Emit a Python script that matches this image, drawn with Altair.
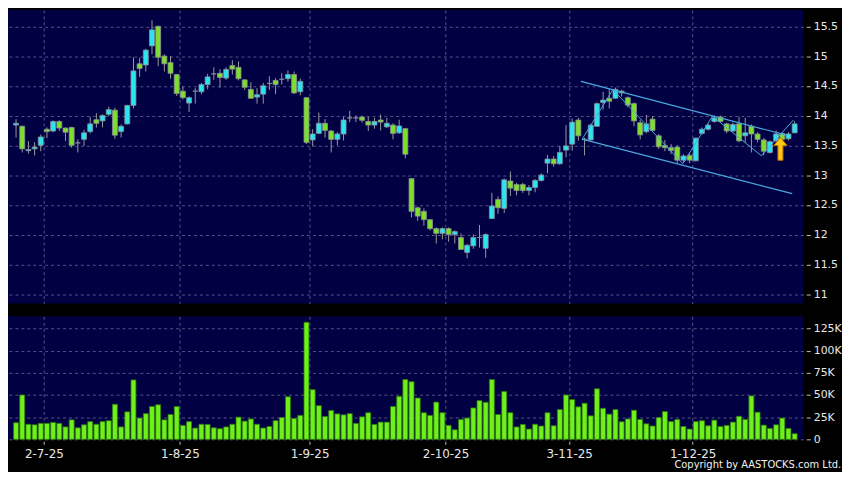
import altair as alt
import pandas as pd

# ---------------- data ----------------
opens = [13.84, 13.82, 13.41, 13.44, 13.50, 13.77, 13.74, 13.90, 13.79, 13.80,
         13.54, 13.60, 13.73, 13.93, 13.91, 14.02, 14.09, 13.73, 13.86, 14.17,
         14.87, 14.85, 15.17, 15.50, 15.00, 14.89, 14.69, 14.41, 14.21, 14.41,
         14.40, 14.52, 14.70, 14.71, 14.63, 14.84, 14.81, 14.60, 14.44, 14.31,
         14.36, 14.54, 14.59, 14.61, 14.62, 14.69, 14.40, 14.30, 13.59, 13.70,
         13.87, 13.74, 13.60, 13.69, 13.96, 13.96, 13.975, 13.90, 13.84, 13.925,
         13.81, 13.84, 13.71, 13.78, 12.94, 12.45, 12.39, 12.25, 12.10, 12.02,
         12.10, 12.00, 11.95, 11.70, 11.81, 11.95, 11.77, 12.27, 12.59, 12.44,
         12.90, 12.84, 12.84, 12.74, 12.79, 12.91, 13.20, 13.27, 13.19, 13.42,
         13.52, 13.925, 13.60, 13.59, 13.82, 14.22, 14.29, 14.29, 14.41, 14.30,
         14.20, 13.88, 13.73, 13.94, 13.66, 13.50, 13.46, 13.47, 13.25, 13.33,
         13.24, 13.70, 13.77, 13.90, 13.975, 13.86, 13.74, 13.86, 13.66, 13.82,
         13.69, 13.59, 13.38, 13.575, 13.70, 13.61, 13.71]
highs = [13.94, 13.83, 13.57, 13.55, 13.68, 13.80, 13.92, 13.92, 13.80, 13.81,
         13.60, 13.76, 13.98, 14.04, 14.02, 14.15, 14.13, 13.85, 14.18, 14.98,
         14.97, 15.12, 15.60, 15.51, 15.03, 15.00, 14.70, 14.49, 14.32, 14.46,
         14.55, 14.70, 14.81, 14.78, 14.81, 14.93, 14.91, 14.61, 14.56, 14.46,
         14.55, 14.66, 14.63, 14.71, 14.76, 14.74, 14.62, 14.31, 13.77, 14.05,
         13.94, 13.76, 13.72, 13.98, 14.08, 14.00, 14.00, 13.98, 13.96, 14.02,
         13.96, 13.87, 13.93, 13.79, 12.95, 12.47, 12.44, 12.26, 12.12, 12.12,
         12.12, 12.07, 12.02, 11.84, 12.00, 12.16, 12.02, 12.70, 12.64, 12.94,
         13.06, 12.87, 12.87, 12.83, 12.93, 13.03, 13.34, 13.32, 13.49, 13.84,
         13.95, 13.96, 13.63, 13.86, 14.22, 14.40, 14.45, 14.47, 14.43, 14.32,
         14.22, 13.93, 14.01, 13.99, 13.69, 13.59, 13.52, 13.50, 13.35, 13.37,
         13.63, 13.80, 13.86, 14.00, 14.00, 13.88, 13.88, 13.98, 13.96, 13.85,
         13.72, 13.62, 13.58, 13.75, 13.72, 13.72, 13.91]
lows = [13.63, 13.38, 13.36, 13.33, 13.40, 13.62, 13.72, 13.74, 13.57, 13.46,
        13.38, 13.49, 13.70, 13.80, 13.80, 13.99, 13.61, 13.63, 13.85, 14.12,
        14.65, 14.74, 15.03, 14.83, 14.74, 14.62, 14.33, 14.27, 14.06, 14.20,
        14.36, 14.44, 14.60, 14.47, 14.60, 14.69, 14.59, 14.43, 14.28, 14.20,
        14.20, 14.43, 14.36, 14.52, 14.57, 14.36, 14.34, 13.52, 13.48, 13.69,
        13.63, 13.38, 13.50, 13.58, 13.89, 13.89, 13.88, 13.74, 13.78, 13.75,
        13.79, 13.60, 13.69, 13.28, 12.29, 12.23, 12.15, 12.07, 11.85, 11.92,
        11.88, 11.85, 11.74, 11.60, 11.76, 11.78, 11.61, 12.26, 12.35, 12.36,
        12.65, 12.66, 12.70, 12.66, 12.71, 12.89, 13.03, 13.14, 13.17, 13.30,
        13.41, 13.58, 13.33, 13.58, 13.81, 14.10, 14.12, 14.28, 14.32, 14.14,
        13.82, 13.60, 13.70, 13.74, 13.44, 13.40, 13.35, 13.20, 13.21, 13.20,
        13.23, 13.68, 13.75, 13.88, 13.88, 13.70, 13.72, 13.55, 13.55, 13.38,
        13.55, 13.33, 13.36, 13.55, 13.55, 13.58, 13.70]
closes = [13.87, 13.44, 13.43, 13.47, 13.64, 13.73, 13.90, 13.79, 13.72, 13.50,
          13.54, 13.71, 13.86, 13.87, 14.00, 14.10, 13.67, 13.82, 14.17, 14.75,
          14.79, 15.10, 15.44, 14.98, 14.87, 14.71, 14.37, 14.30, 14.30, 14.41,
          14.52, 14.65, 14.70, 14.64, 14.775, 14.78, 14.62, 14.475, 14.29, 14.35,
          14.50, 14.54, 14.52, 14.61, 14.69, 14.38, 14.575, 13.55, 13.69, 13.87,
          13.75, 13.60, 13.69, 13.925, 13.96, 13.96, 13.92, 13.84, 13.90, 13.89,
          13.87, 13.70, 13.825, 13.35, 12.39, 12.31, 12.25, 12.10, 12.02, 12.10,
          12.00, 12.05, 11.75, 11.82, 11.95, 11.95, 12.00, 12.48, 12.45, 12.92,
          12.78, 12.74, 12.74, 12.79, 12.91, 13.00, 13.27, 13.19, 13.38, 13.49,
          13.89, 13.66, 13.60, 13.84, 14.20, 14.26, 14.24, 14.44, 14.38, 14.175,
          13.91, 13.675, 13.86, 13.75, 13.475, 13.46, 13.41, 13.25, 13.32, 13.25,
          13.62, 13.77, 13.84, 13.96, 13.90, 13.74, 13.85, 13.575, 13.71, 13.69,
          13.60, 13.40, 13.56, 13.69, 13.60, 13.69, 13.86]
volume_k = [18.7, 50, 17, 16.4, 18, 18, 19, 18, 14, 22,
            13, 16.4, 20, 17, 20, 21, 39.5, 14, 31, 67,
            24, 29, 37, 39, 22, 28, 37, 15.7, 20, 12.7,
            17, 16.8, 13, 12, 14, 17, 25, 20.5, 23, 17,
            12.7, 14.5, 21, 24.6, 48, 23.5, 27, 132, 56, 38,
            25.7, 32.5, 28.7, 27.6, 29, 18, 25.4, 30, 16.8, 19.4,
            19.4, 37, 48.5, 67.5, 65, 46.6, 30, 27, 42, 30,
            15.7, 10.8, 22.4, 24, 35.4, 43.7, 41.8, 67.5, 28, 54,
            30, 14, 16.8, 11.6, 17, 15, 30, 15.3, 33.6, 50,
            44.8, 36.6, 40.7, 26.5, 57, 35, 28.4, 33.6, 19.8, 23,
            32.8, 22.4, 17.5, 15, 24.6, 31.3, 20, 22.4, 14.5, 11.6,
            20, 21, 15.3, 21.6, 14.5, 15.7, 19.4, 26, 22.4, 49,
            30.6, 16, 12.3, 16.4, 24, 12.3, 6.3]

# month boundaries (between trading-day slots) and their labels
tick_pos = [4.5, 26.5, 47.5, 69.5, 89.5, 109.5]
tick_labels = ["2-7-25", "1-8-25", "1-9-25", "2-10-25", "3-11-25", "1-12-25"]
price_ticks = [11, 11.5, 12, 12.5, 13, 13.5, 14, 14.5, 15, 15.5]
volume_ticks = [0, 25, 50, 75, 100, 125]

# drawn trend channel and zig-zag (slot index, price)
channel_x = [91.4, 91.6]
channel_y = [14.575, 13.603]
channel_x2 = [124.7, 125.6]
channel_y2 = [13.67, 12.687]
zigzag_x = [91.6, 96.6, 107.9, 112.7, 120.6, 125.8]
zigzag_y = [13.603, 14.437, 13.19, 13.99, 13.325, 13.925]
arrow_x = [123.7]
arrow_y = [13.44]

# ---------------- styling ----------------
PLOT_BG = "#000042"
GRID = "#55558a"
CYAN = "#2ae4f0"
GREEN = "#7ddf2a"
FLAT = "#a8a8a8"
WICK = "#9a9a9a"
EDGE = "#8a8f99"
VOL_FILL = "#6ff01a"
VOL_EDGE = "#2f7a10"
TREND = "#4aa8e0"
TXT = "#e8e8e8"
FONT = "DejaVu Sans"

n = len(opens)
df = pd.DataFrame({
    "i": list(range(n)), "open": opens, "high": highs, "low": lows,
    "close": closes, "vol": volume_k,
})
df["dir"] = ["up" if c > o else ("down" if c < o else "flat") for o, c in zip(opens, closes)]

chan = pd.DataFrame({"x": channel_x, "y": channel_y, "x2": channel_x2, "y2": channel_y2})
zz = pd.DataFrame({"x": zigzag_x, "y": zigzag_y})
arr = pd.DataFrame({"x": arrow_x, "y": arrow_y})

label_expr = " : ".join(
    f"datum.value == {p} ? '{t}'" for p, t in zip(tick_pos, tick_labels)
) + " : ''"

xscale = alt.Scale(domain=[-0.5, 126.6], nice=False, zero=False)
pscale = alt.Scale(domain=[10.842, 15.775], nice=False, zero=False)
vscale = alt.Scale(domain=[0, 138.7], nice=False)

grid_kw = dict(grid=True, gridColor=GRID, gridDash=[3, 3], gridWidth=1, domain=False,
               title=None, labelOverlap=False)

x_price_axis = alt.Axis(values=tick_pos, labels=False, ticks=False, **grid_kw)
x_vol_axis = alt.Axis(values=tick_pos, labelExpr=label_expr, ticks=True, tickSize=3,
                      offset=2, labelPadding=4, labelFontSize=12, **grid_kw)
y_price_axis = alt.Axis(orient="right", values=price_ticks, format="~g", tickSize=4,
                        offset=3, labelPadding=3, **grid_kw)
y_vol_axis = alt.Axis(orient="right", values=volume_ticks,
                      labelExpr="datum.value == 0 ? '0' : datum.value + 'K'",
                      tickSize=4, offset=3, labelPadding=3, **grid_kw)


def px(field):
    return alt.X(field, type="quantitative", scale=xscale, axis=x_price_axis)


def py(field):
    return alt.Y(field, type="quantitative", scale=pscale, axis=y_price_axis)


base = alt.Chart(df)

wicks = base.mark_rule(color=WICK, strokeWidth=1).encode(
    x=px("i"), y=py("low"), y2="high:Q",
)
bodies = base.mark_bar(size=5, stroke=EDGE, strokeWidth=0.8).encode(
    x=px("i"), y=py("open"), y2="close:Q",
    color=alt.Color("dir:N", scale=alt.Scale(domain=["up", "down", "flat"],
                                             range=[CYAN, GREEN, FLAT]), legend=None),
)
channel = alt.Chart(chan).mark_rule(color=TREND, strokeWidth=1.2).encode(
    x=px("x"), y=py("y"), x2="x2:Q", y2="y2:Q"
)
zigzag = alt.Chart(zz).mark_line(color=TREND, strokeWidth=1).encode(
    x=px("x"), y=py("y")
)
ARROW = "M0,-1L0.58,-0.3L0.22,-0.3L0.22,1L-0.22,1L-0.22,-0.3L-0.58,-0.3Z"
arrow = alt.Chart(arr).mark_point(shape=ARROW, size=529, filled=True, fill="#ffc814",
                                  stroke="#b86e00", strokeWidth=1, opacity=1).encode(
    x=px("x"), y=py("y")
)

price = alt.layer(wicks, bodies, channel, zigzag, arrow).properties(width=802, height=296)

vol = base.mark_bar(size=5, color=VOL_FILL, stroke=VOL_EDGE, strokeWidth=0.8).encode(
    x=alt.X("i:Q", scale=xscale, axis=x_vol_axis),
    y=alt.Y("vol:Q", scale=vscale, axis=y_vol_axis),
).properties(width=802, height=124)

chart = alt.vconcat(price, vol, spacing=13).properties(
    background="black",
    padding=0,
    title=alt.TitleParams(
        "Copyright by AASTOCKS.com Ltd.", orient="bottom", anchor="end",
        fontSize=10, font=FONT, fontWeight="normal", color="#f2f2f2", offset=1,
    ),
).configure_view(
    fill=PLOT_BG, stroke=None
).configure_axis(
    labelFont=FONT, labelFontSize=11, labelColor=TXT, tickColor="#c0c0c0", tickWidth=1
)

chart.save("out.html", embed_options={"renderer": "svg", "actions": False})
